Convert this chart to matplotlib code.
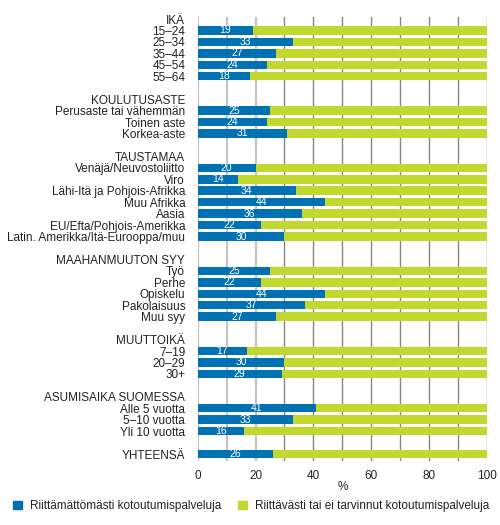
import numpy as np
import matplotlib
matplotlib.use("Agg")
import matplotlib.pyplot as plt
from matplotlib.patches import Patch

plt.rcParams['font.family'] = ['Liberation Sans', 'DejaVu Sans']

# groups and their rows (header, then items)
groups = ["IKÄ", "KOULUTUSASTE", "TAUSTAMAA", "MAAHANMUUTON SYY",
          "MUUTTOIKÄ", "ASUMISAIKA SUOMESSA"]
items = [
    ["15–24", "25–34", "35–44", "45–54", "55–64"],
    ["Perusaste tai vähemmän", "Toinen aste", "Korkea-aste"],
    ["Venäjä/Neuvostoliitto", "Viro", "Lähi-Itä ja Pohjois-Afrikka",
     "Muu Afrikka", "Aasia", "EU/Efta/Pohjois-Amerikka",
     "Latin. Amerikka/Itä-Eurooppa/muu"],
    ["Työ", "Perhe", "Opiskelu", "Pakolaisuus", "Muu syy"],
    ["7–19", "20–29", "30+"],
    ["Alle 5 vuotta", "5–10 vuotta", "Yli 10 vuotta"],
]
riittamaton = [
    [19, 33, 27, 24, 18],
    [25, 24, 31],
    [20, 14, 34, 44, 36, 22, 30],
    [25, 22, 44, 37, 27],
    [17, 30, 29],
    [41, 33, 16],
]
total_label = "YHTEENSÄ"
total_value = 26

legend_labels = ["Riittämättömästi kotoutumispalveluja",
                 "Riittävästi tai ei tarvinnut kotoutumispalveluja"]
blue = "#0071b2"
green = "#c1d82f"

# build row list
labels, rows, vals = [], [], []
pos = 0
for g, its, vs in zip(groups, items, riittamaton):
    labels.append(g); rows.append(pos); pos += 1
    for it, v in zip(its, vs):
        labels.append(it); rows.append(pos); vals.append((pos, v)); pos += 1
    pos += 1
labels.append(total_label); rows.append(pos); vals.append((pos, total_value))

fig = plt.figure(figsize=(5, 5.25), dpi=100)
ax = fig.add_axes([0.3954, 0.1225, 0.5786, 0.845])

for x in np.arange(0, 101, 10):
    if x <= 20:
        ax.axvline(x, color="#c4c4c4", lw=1.6, zorder=0)
    else:
        ax.axvline(x, color="#858585", lw=1.0, zorder=0)

ys = [p for p, v in vals]
vs = np.array([v for p, v in vals])
ax.barh(ys, vs, height=0.74, color=blue, zorder=2)
ax.barh(ys, 100 - vs, left=vs, height=0.74, color=green, zorder=2)
for y, v in zip(ys, vs):
    ax.text(v / 2, y, str(v), color="white", ha="center", va="center",
            fontsize=7.5, zorder=3)

ax.set_ylim(pos + 0.58, -0.17)
ax.set_xlim(0, 100)
ax.set_yticks(rows)
ax.set_yticklabels(labels, fontsize=8.5, color="#222222")
ax.set_xticks(np.arange(0, 101, 20))
ax.tick_params(axis="both", length=0, labelsize=8.5, colors="#222222")
ax.tick_params(axis="y", pad=9)
ax.tick_params(axis="x", pad=7)
ax.set_xlabel("%", fontsize=8.5, color="#222222", labelpad=-1)
for s in ax.spines.values():
    s.set_visible(False)

handles = [Patch(color=blue), Patch(color=green)]
fig.legend(handles, legend_labels, loc="center left",
           bbox_to_anchor=(0.0267, 0.036), borderpad=0, borderaxespad=0,
           ncol=2, frameon=False, fontsize=8.5, handlelength=0.71,
           handleheight=0.71, handletextpad=0.7, columnspacing=1.45,
           labelcolor="#222222")

fig.savefig("out.png", dpi=100)
